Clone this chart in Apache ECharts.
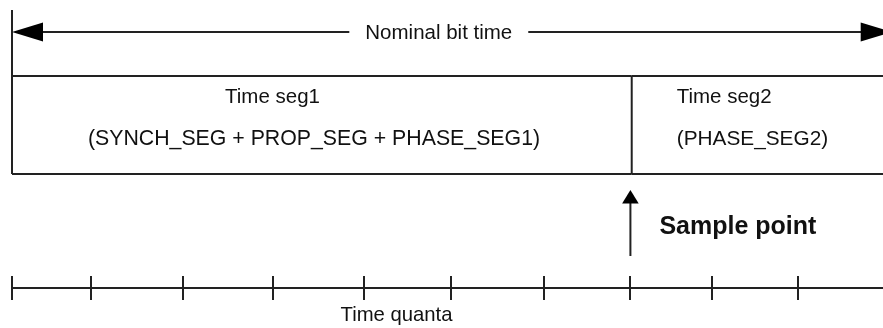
<!DOCTYPE html>
<html>
<head>
<meta charset="utf-8">
<script src="https://cdn.jsdelivr.net/npm/echarts@6/dist/echarts.min.js"></script>
<style>
html,body{margin:0;padding:0;background:#ffffff;}
#chart{width:883px;height:328px;}
</style>
</head>
<body>
<div id="chart"></div>
<script>
// ---- data (x values in time quanta) ----
const quantaTicks = [0, 0.91, 1.96, 3.0, 4.04, 5.04, 6.11, 7.1, 8.04, 9.02];
const segmentBounds = [0, 7.115, 10.2];
const segmentNames = ['Time seg1', 'Time seg2'];
const segmentDetails = ['(SYNCH_SEG + PROP_SEG + PHASE_SEG1)', '(PHASE_SEG2)'];
const samplePoint = [7.1];
const nominalBitTime = [0, 10.1];
const diagramLabels = ['Nominal bit time', 'Sample point', 'Time quanta'];

// ---- layout (vertical levels on a 0..328 layout axis) ----
const LY = {
  arrow: 32, vTop: 10, boxTop: 76, boxBottom: 174,
  line1: 97, line2: 139,
  sampleTip: 190, sampleBase: 256, sampleText: 226,
  axis: 288, tickTop: 276, tickBottom: 300, axisText: 315
};
const FONT = '"Liberation Sans", Arial, Helvetica, sans-serif';
const INK = '#222222';
const LW = 2;
const segLayout = [
  { align: 'center', dx1: 260.5, dx2: 302, size2: 21.3 },
  { align: 'left', dx1: 45, dx2: 45, size2: 20.8 }
];

function ln(p, q) {
  return { type: 'line', shape: { x1: p[0], y1: p[1], x2: q[0], y2: q[1] }, style: { stroke: INK, lineWidth: LW } };
}
function txt(text, x, y, size, align, weight, extra) {
  return {
    type: 'text',
    style: Object.assign({
      text: text, x: x, y: y, fill: '#111',
      font: (weight || 'normal') + ' ' + size + 'px ' + FONT,
      align: align, verticalAlign: 'middle'
    }, extra || {})
  };
}

const chart = echarts.init(document.getElementById('chart'), null, { renderer: 'canvas' });

const option = {
  animation: false,
  backgroundColor: '#ffffff',
  grid: { left: 12, right: 0, top: 0, bottom: 0 },
  xAxis: { type: 'value', min: 0, max: 10, show: false },
  yAxis: { type: 'value', min: 0, max: 328, inverse: true, show: false },
  series: [
    // Nominal bit time double arrow
    {
      type: 'custom', silent: true, clip: false,
      data: [nominalBitTime],
      renderItem: function (params, api) {
        const a = api.coord([api.value(0), LY.arrow]);
        const b = api.coord([api.value(1), LY.arrow]);
        const mid = api.coord([4.9, LY.arrow]);
        const L = 31, H = 9.5;
        return {
          type: 'group',
          children: [
            ln([a[0] + 5, a[1]], [b[0] - 5, b[1]]),
            { type: 'polygon', shape: { points: [[a[0], a[1]], [a[0] + L, a[1] - H], [a[0] + L, a[1] + H]] }, style: { fill: '#000' } },
            { type: 'polygon', shape: { points: [[b[0], b[1]], [b[0] - L, b[1] - H], [b[0] - L, b[1] + H]] }, style: { fill: '#000' } },
            txt(diagramLabels[0], mid[0], mid[1] + 1, 20.5, 'center', 'normal', { backgroundColor: '#ffffff', padding: [0, 16] })
          ]
        };
      }
    },
    // Segments box
    {
      type: 'custom', silent: true, clip: false,
      data: segmentNames.map(function (n, i) { return [segmentBounds[i], segmentBounds[i + 1], i]; }),
      renderItem: function (params, api) {
        const i = api.value(2);
        const s0 = api.coord([api.value(0), LY.boxTop]);
        const s1 = api.coord([api.value(1), LY.boxTop]);
        const b0 = api.coord([api.value(0), LY.boxBottom]);
        const b1 = api.coord([api.value(1), LY.boxBottom]);
        const topY = i === 0 ? api.coord([0, LY.vTop])[1] : s0[1];
        const lay = segLayout[i];
        const l1 = api.coord([api.value(0), LY.line1]);
        const l2 = api.coord([api.value(0), LY.line2]);
        return {
          type: 'group',
          children: [
            ln([s0[0], topY], [b0[0], b0[1]]),
            ln(s0, s1),
            ln(b0, b1),
            txt(segmentNames[i], l1[0] + lay.dx1, l1[1], 20.5, lay.align),
            txt(segmentDetails[i], l2[0] + lay.dx2, l2[1], lay.size2, lay.align)
          ]
        };
      }
    },
    // Sample point arrow
    {
      type: 'custom', silent: true, clip: false,
      data: samplePoint.map(function (v) { return [v]; }),
      renderItem: function (params, api) {
        const tip = api.coord([api.value(0), LY.sampleTip]);
        const base = api.coord([api.value(0), LY.sampleBase]);
        const lab = api.coord([api.value(0), LY.sampleText]);
        const L = 13.5, H = 8.3;
        return {
          type: 'group',
          children: [
            ln([tip[0], tip[1] + 6], base),
            { type: 'polygon', shape: { points: [[tip[0], tip[1]], [tip[0] - H, tip[1] + L], [tip[0] + H, tip[1] + L]] }, style: { fill: '#000' } },
            txt(diagramLabels[1], lab[0] + 29, lab[1] + 1, 25, 'left', 'bold')
          ]
        };
      }
    },
    // Time quanta axis line + label
    {
      type: 'custom', silent: true, clip: false,
      data: [[0, 10.2]],
      renderItem: function (params, api) {
        const a = api.coord([api.value(0), LY.axis]);
        const b = api.coord([api.value(1), LY.axis]);
        const t = api.coord([4.415, LY.axisText]);
        return {
          type: 'group',
          children: [
            ln(a, b),
            txt(diagramLabels[2], t[0], t[1], 20.3, 'center')
          ]
        };
      }
    },
    // Time quanta ticks
    {
      type: 'custom', silent: true, clip: false,
      data: quantaTicks.map(function (v) { return [v]; }),
      renderItem: function (params, api) {
        const p = api.coord([api.value(0), LY.tickTop]);
        const q = api.coord([api.value(0), LY.tickBottom]);
        return ln([Math.round(p[0]), p[1]], [Math.round(q[0]), q[1]]);
      }
    }
  ]
};
chart.setOption(option);
</script>
</body>
</html>
